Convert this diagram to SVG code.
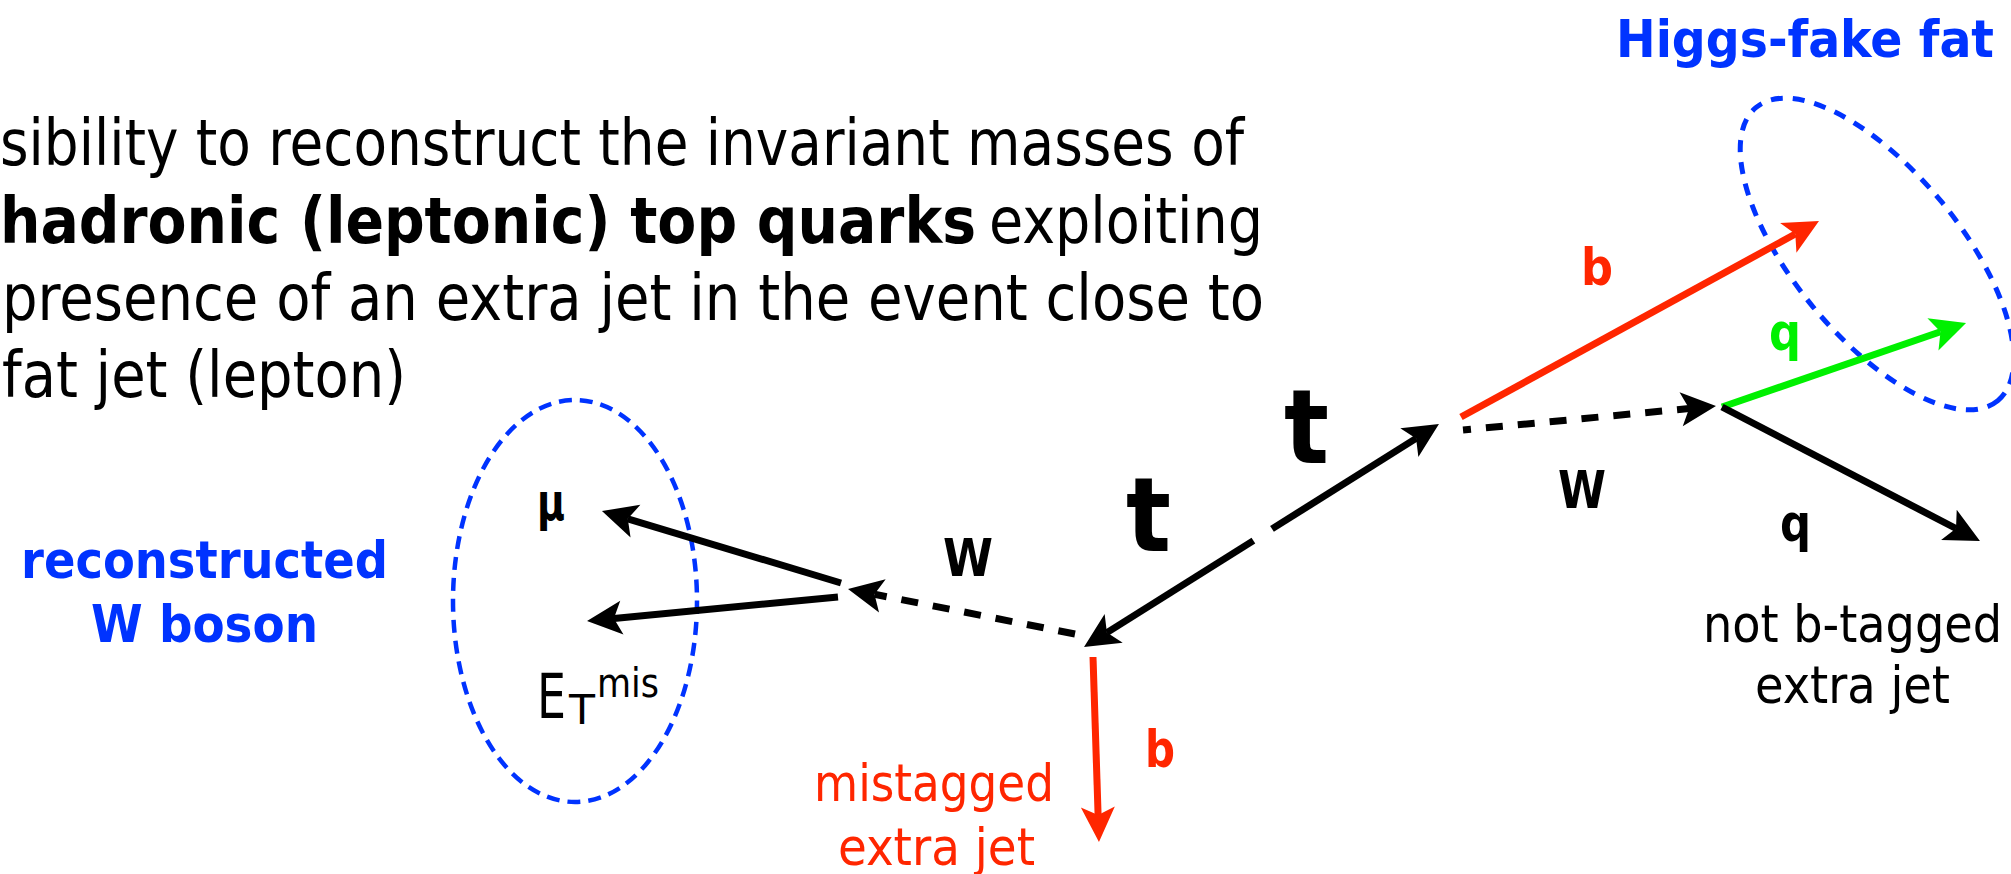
<svg xmlns="http://www.w3.org/2000/svg" width="2011" height="874" viewBox="0 0 2011 874">
<style>
  text { font-family: "DejaVu Sans Condensed", "DejaVu Sans", sans-serif; }
  .para { font-size: 64px; fill: #000; }
  .b { font-weight: bold; }
  .lbl { font-size: 52px; }
  .blue { fill: #0033ff; }
  .red { fill: #ff2600; }
  .green { fill: #00f000; }
  .blk { fill: #000; }
  .big { font-size: 104px; font-weight: bold; fill: #000; }
  .sol { fill: none; stroke-width: 7; stroke-linecap: butt; }
  .dash { fill: none; stroke: #000; stroke-width: 7; stroke-dasharray: 17 15; }
  .ell { fill: none; stroke: #0033ff; }
</style>
<defs>
  <marker id="ah-k" markerUnits="userSpaceOnUse" orient="auto" refX="0" refY="0" markerWidth="80" markerHeight="80" overflow="visible">
    <path d="M27,0 L-8,-17 L0,0 L-8,17 Z" fill="#000"/>
  </marker>
  <marker id="ah-r" markerUnits="userSpaceOnUse" orient="auto" refX="0" refY="0" markerWidth="80" markerHeight="80" overflow="visible">
    <path d="M27,0 L-8,-17 L0,0 L-8,17 Z" fill="#ff2600"/>
  </marker>
  <marker id="ah-g" markerUnits="userSpaceOnUse" orient="auto" refX="0" refY="0" markerWidth="80" markerHeight="80" overflow="visible">
    <path d="M27,0 L-8,-17 L0,0 L-8,17 Z" fill="#00f000"/>
  </marker>
</defs>

<g id="paragraph">
  <text class="para" x="0" y="165" textLength="1244" lengthAdjust="spacingAndGlyphs">sibility to reconstruct the invariant masses of</text>
  <text class="para b" x="0" y="243" textLength="976" lengthAdjust="spacingAndGlyphs">hadronic (leptonic) top quarks</text>
  <text class="para" x="989" y="243" textLength="274" lengthAdjust="spacingAndGlyphs">exploiting</text>
  <text class="para" x="2" y="320" textLength="1262" lengthAdjust="spacingAndGlyphs">presence of an extra jet in the event close to</text>
  <text class="para" x="2" y="397" textLength="404" lengthAdjust="spacingAndGlyphs">fat jet (lepton)</text>
</g>

<g id="higgs-fat-jet">
  <ellipse class="ell" cx="1877" cy="254" rx="190" ry="83" transform="rotate(50.5 1877 254)" stroke-width="5" stroke-dasharray="12 10"/>
  <text class="lbl b blue" x="1616" y="57" textLength="378" lengthAdjust="spacingAndGlyphs">Higgs-fake fat</text>
</g>

<g id="reconstructed-w">
  <ellipse class="ell" cx="575" cy="601" rx="122" ry="201" stroke-width="4.5" stroke-dasharray="13 8"/>
  <text class="lbl b blue" x="21" y="578" textLength="367" lengthAdjust="spacingAndGlyphs">reconstructed</text>
  <text class="lbl b blue" x="91" y="642" textLength="227" lengthAdjust="spacingAndGlyphs">W boson</text>
</g>

<g id="connectors">
  <line class="sol" stroke="#ff2600" x1="1461" y1="417" x2="1795.3" y2="234" marker-end="url(#ah-r)"/>
  <line class="sol" stroke="#00f000" x1="1722" y1="407" x2="1940.5" y2="331.8" marker-end="url(#ah-g)"/>
  <line class="sol" stroke="#000" x1="1722" y1="407" x2="1956" y2="528.5" marker-end="url(#ah-k)"/>
  <line class="dash" stroke-dashoffset="9" x1="1463" y1="430" x2="1689.1" y2="408.5" marker-end="url(#ah-k)"/>
  <line class="sol" stroke="#000" x1="1272" y1="528.9" x2="1416.1" y2="438.4" marker-end="url(#ah-k)"/>
  <line class="sol" stroke="#000" x1="1253.4" y1="540.6" x2="1106.9" y2="632.6" marker-end="url(#ah-k)"/>
  <line class="dash" x1="1075" y1="634" x2="874.5" y2="594.3" marker-end="url(#ah-k)"/>
  <line class="sol" stroke="#000" x1="841" y1="583" x2="627.8" y2="518.8" marker-end="url(#ah-k)"/>
  <line class="sol" stroke="#000" x1="838" y1="597" x2="613.9" y2="618.4" marker-end="url(#ah-k)"/>
  <line class="sol" stroke="#ff2600" stroke-width="6.5" x1="1093" y1="657" x2="1098.1" y2="815" marker-end="url(#ah-r)"/>
</g>

<g id="labels">
  <text class="lbl b red" x="1581" y="285" textLength="32" lengthAdjust="spacingAndGlyphs">b</text>
  <text class="lbl b green" x="1769" y="350" textLength="32" lengthAdjust="spacingAndGlyphs">q</text>
  <text class="lbl b blk" x="1780" y="541" textLength="31" lengthAdjust="spacingAndGlyphs">q</text>
  <text class="lbl b blk" x="1558" y="508" textLength="48" lengthAdjust="spacingAndGlyphs">W</text>
  <text class="big" x="1284" y="463" textLength="45" lengthAdjust="spacingAndGlyphs">t</text>
  <text class="big" x="1126" y="551" textLength="45" lengthAdjust="spacingAndGlyphs">t</text>
  <text class="lbl b blk" x="943" y="576" textLength="50" lengthAdjust="spacingAndGlyphs">W</text>
  <text class="lbl b blk" x="537" y="520" textLength="28" lengthAdjust="spacingAndGlyphs">μ</text>
  <text class="blk" x="537" y="718" font-size="62" textLength="29" lengthAdjust="spacingAndGlyphs">E</text>
  <text class="blk" x="569" y="724" font-size="40" textLength="26" lengthAdjust="spacingAndGlyphs">T</text>
  <text class="blk" x="597" y="697" font-size="41" textLength="62" lengthAdjust="spacingAndGlyphs">mis</text>
  <text class="lbl b red" x="1145" y="767" textLength="30" lengthAdjust="spacingAndGlyphs">b</text>
  <text class="lbl red" x="814" y="801" textLength="240" lengthAdjust="spacingAndGlyphs">mistagged</text>
  <text class="lbl red" x="838" y="865" textLength="197" lengthAdjust="spacingAndGlyphs">extra jet</text>
  <text class="lbl blk" x="1703" y="642" textLength="299" lengthAdjust="spacingAndGlyphs">not b-tagged</text>
  <text class="lbl blk" x="1755" y="703" textLength="195" lengthAdjust="spacingAndGlyphs">extra jet</text>
</g>
</svg>
